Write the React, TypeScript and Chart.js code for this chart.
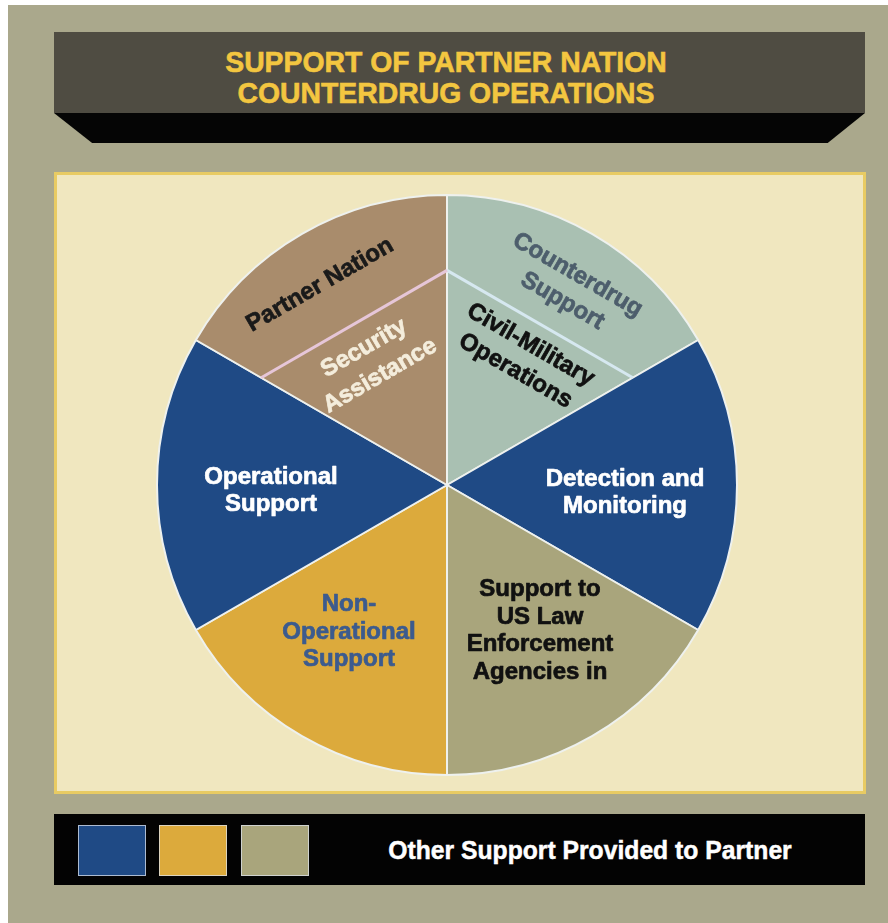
import React, { useEffect, useRef } from "react";
import { Chart, registerables } from "chart.js";

Chart.register(...registerables);

// ---------- data ----------
const titleLines = ["SUPPORT OF PARTNER NATION", "COUNTERDRUG OPERATIONS"];
const categories = [
  "Counterdrug Support",
  "Detection and Monitoring",
  "Support to US Law Enforcement Agencies in",
  "Non-Operational Support",
  "Operational Support",
  "Partner Nation",
];
const sliceValues = [1, 1, 1, 1, 1, 1];
const outerLabelLines = [
  ["Counterdrug", "Support"],
  ["Detection and", "Monitoring"],
  ["Support to", "US Law", "Enforcement", "Agencies in"],
  ["Non-", "Operational", "Support"],
  ["Operational", "Support"],
  ["Partner Nation"],
];
const innerLabelLines: (string[] | null)[] = [
  ["Civil-Military", "Operations"],
  null,
  null,
  null,
  null,
  ["Security", "Assistance"],
];
const legendText = "Other Support Provided to Partner";

// ---------- styles / layout ----------
const BLUE = "#1f4a85";
const GOLD = "#dcaa3c";
const OLIVE = "#a9a57c";
const sliceColors = ["#a9c0b2", BLUE, OLIVE, GOLD, BLUE, "#a98c6c"];
const legendColors = [BLUE, GOLD, OLIVE];
const REF_R = 290;
const innerRadiusFraction = 0.74;
const chordColors: (string | null)[] = ["#d6e8f0", null, null, null, null, "#e6c6d8"];

type LabelStyle = { dx: number; dy: number; rot: number; color: string; lh: number };
const outerLabelStyle: LabelStyle[] = [
  { dx: 123, dy: -197, rot: 30, color: "#4d5e6c", lh: 30 },
  { dx: 178, dy: 8, rot: 0, color: "#ffffff", lh: 27.5 },
  { dx: 93, dy: 146, rot: 0, color: "#111111", lh: 27.5 },
  { dx: -98, dy: 147, rot: 0, color: "#3c5b8e", lh: 27.5 },
  { dx: -176, dy: 6, rot: 0, color: "#ffffff", lh: 27 },
  { dx: -127, dy: -200, rot: -30, color: "#1a1a1a", lh: 30 },
];
const innerLabelStyle: (LabelStyle | null)[] = [
  { dx: 76, dy: -127, rot: 30, color: "#111111", lh: 30 },
  null,
  null,
  null,
  null,
  { dx: -75, dy: -123, rot: -30, color: "#f4eddc", lh: 32 },
];
const LABEL_FONT = "bold 24px 'Liberation Sans', Arial, sans-serif";

function drawLabel(ctx: CanvasRenderingContext2D, lines: string[], x: number, y: number, s: LabelStyle, k: number) {
  ctx.save();
  ctx.translate(x, y);
  ctx.rotate((s.rot * Math.PI) / 180);
  ctx.font = LABEL_FONT;
  ctx.fillStyle = s.color;
  ctx.strokeStyle = s.color;
  ctx.lineWidth = 0.7;
  ctx.lineJoin = "round";
  ctx.textAlign = "center";
  ctx.textBaseline = "middle";
  const n = lines.length;
  lines.forEach((line, i) => {
    const yy = (i - (n - 1) / 2) * s.lh * k;
    ctx.fillText(line, 0, yy);
    ctx.strokeText(line, 0, yy);
  });
  ctx.restore();
}

const overlayPlugin = {
  id: "overlay",
  afterDatasetsDraw(chart: any) {
    const ctx: CanvasRenderingContext2D = chart.ctx;
    const meta = chart.getDatasetMeta(0);
    meta.data.forEach((el: any, i: number) => {
      const p = el.getProps(["x", "y", "startAngle", "endAngle", "outerRadius"], true);
      const k = p.outerRadius / REF_R;
      const chord = chordColors[i];
      if (chord) {
        const r = p.outerRadius * innerRadiusFraction;
        ctx.save();
        ctx.strokeStyle = chord;
        ctx.lineWidth = 3;
        ctx.beginPath();
        ctx.moveTo(p.x + r * Math.cos(p.startAngle), p.y + r * Math.sin(p.startAngle));
        ctx.lineTo(p.x + r * Math.cos(p.endAngle), p.y + r * Math.sin(p.endAngle));
        ctx.stroke();
        ctx.restore();
      }
      const s = outerLabelStyle[i];
      drawLabel(ctx, outerLabelLines[i], p.x + s.dx * k, p.y + s.dy * k, s, k);
      const inner = innerLabelLines[i];
      const is = innerLabelStyle[i];
      if (inner && is) drawLabel(ctx, inner, p.x + is.dx * k, p.y + is.dy * k, is, k);
    });
  },
};

function PieChart() {
  const ref = useRef<HTMLCanvasElement | null>(null);
  useEffect(() => {
    if (!ref.current) return;
    const chart = new Chart(ref.current, {
      type: "pie",
      data: {
        labels: categories,
        datasets: [
          {
            data: sliceValues,
            backgroundColor: sliceColors,
            borderColor: "#eef1ee",
            borderWidth: 2,
            hoverOffset: 0,
          } as any,
        ],
      },
      options: {
        animation: false,
        responsive: false,
        maintainAspectRatio: false,
        events: [],
        layout: { padding: 0 },
        plugins: { legend: { display: false }, tooltip: { enabled: false }, title: { display: false } },
      },
      plugins: [overlayPlugin],
    });
    return () => chart.destroy();
  }, []);
  return (
    <canvas
      ref={ref}
      width={582}
      height={582}
      style={{ position: "absolute", left: 156, top: 194, width: 582, height: 582 }}
    />
  );
}

const abs = (l: number, t: number, w: number, h: number, extra: React.CSSProperties = {}): React.CSSProperties => ({
  position: "absolute",
  left: l,
  top: t,
  width: w,
  height: h,
  boxSizing: "border-box",
  ...extra,
});

export default function App() {
  const font = "'Liberation Sans', Arial, sans-serif";
  return (
    <div style={{ position: "absolute", left: 0, top: 0, width: 888, height: 923, overflow: "hidden" }}>
      <div style={abs(8, 5, 880, 918, { background: "#aaa88c" })} />
      {/* title bar */}
      <div style={abs(54, 32, 811, 81, { background: "#4f4c42" })} />
      <div
        style={abs(54, 113, 811, 30, {
          background: "#050505",
          clipPath: "polygon(0 0, 100% 0, 95.4% 100%, 4.7% 100%)",
        })}
      />
      {titleLines.map((t, i) => (
        <div
          key={i}
          style={abs(0, 46 + i * 31, 892, 31, {
            fontFamily: font,
            fontWeight: "bold",
            fontSize: 30,
            lineHeight: "31px",
            color: "#f3c640",
            textAlign: "center",
            whiteSpace: "pre",
            transform: "scaleX(0.945)",
            WebkitTextStroke: "0.6px #f3c640",
          })}
        >
          {t}
        </div>
      ))}
      {/* chart panel */}
      <div style={abs(54, 172, 812, 622, { background: "#f0e7bf", border: "3px solid #e8cb63" })} />
      <PieChart />
      {/* legend bar */}
      <div style={abs(54, 814, 811, 71, { background: "#030303" })} />
      {legendColors.map((c, i) => (
        <div
          key={i}
          style={abs([78, 159, 241][i], 825, 68, 51, {
            background: c,
            border: "1px solid rgba(220,225,235,0.75)",
          })}
        />
      ))}
      <div
        style={abs(330, 835, 520, 30, {
          fontFamily: font,
          fontWeight: "bold",
          fontSize: 26,
          lineHeight: "30px",
          color: "#ffffff",
          textAlign: "center",
          whiteSpace: "nowrap",
          transform: "scaleX(0.95)",
          WebkitTextStroke: "0.5px #ffffff",
        })}
      >
        {legendText}
      </div>
    </div>
  );
}
